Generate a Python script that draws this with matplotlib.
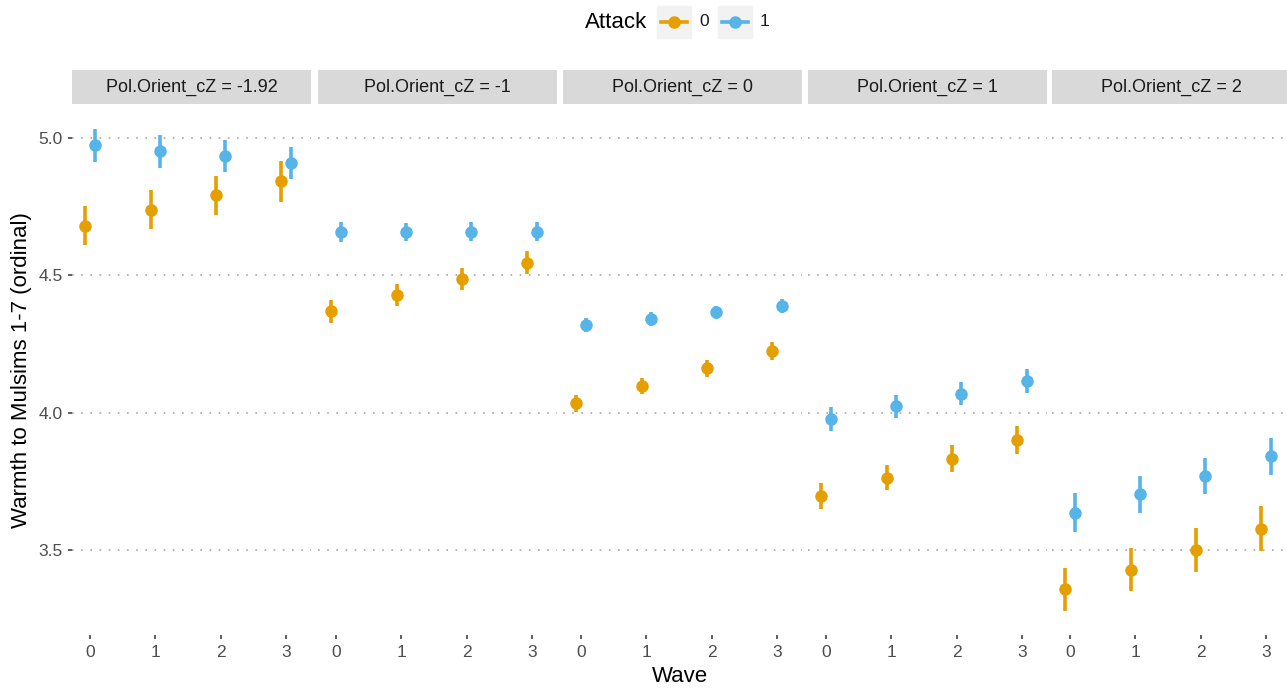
import matplotlib.pyplot as plt
from matplotlib.patches import Rectangle
from matplotlib.lines import Line2D

plt.rcParams['font.family'] = ['Liberation Sans', 'DejaVu Sans']

# data
panels = ["-1.92", "-1", "0", "1", "2"]
waves = [0, 1, 2, 3]

# Attack = 0 (orange)
est0 = [
    [4.680, 4.738, 4.790, 4.841],
    [4.369, 4.430, 4.485, 4.545],
    [4.035, 4.098, 4.161, 4.224],
    [3.698, 3.764, 3.833, 3.902],
    [3.358, 3.429, 3.502, 3.579],
]
err0 = [
    [0.070, 0.071, 0.072, 0.073],
    [0.042, 0.040, 0.040, 0.042],
    [0.031, 0.030, 0.030, 0.032],
    [0.047, 0.046, 0.048, 0.051],
    [0.078, 0.078, 0.080, 0.081],
]
# Attack = 1 (blue)
est1 = [
    [4.972, 4.950, 4.932, 4.908],
    [4.657, 4.657, 4.658, 4.658],
    [4.319, 4.341, 4.365, 4.387],
    [3.978, 4.023, 4.069, 4.116],
    [3.637, 3.703, 3.770, 3.842],
]
err1 = [
    [0.059, 0.059, 0.058, 0.058],
    [0.035, 0.034, 0.034, 0.035],
    [0.025, 0.024, 0.024, 0.025],
    [0.043, 0.042, 0.042, 0.043],
    [0.070, 0.068, 0.067, 0.067],
]

c0 = "#E69F00"
c1 = "#56B4E9"
dodge = 0.07

W, H = 1287, 688
fig = plt.figure(figsize=(W / 100, H / 100), dpi=100)

lefts = [72, 318, 563, 808, 1052]
pw = 239
ptop, pbot = 105, 635
strip_h = 34

for i, lab in enumerate(panels):
    ax = fig.add_axes([lefts[i] / W, (H - pbot) / H, pw / W, (pbot - ptop) / H])
    for e, er, col, off in [(est0[i], err0[i], c0, -dodge), (est1[i], err1[i], c1, dodge)]:
        xs = [w + off for w in waves]
        ax.errorbar(xs, e, yerr=er, fmt="o", color=col, ms=8, elinewidth=2.6,
                    capsize=0, zorder=3)
    ax.set_xlim(-0.276, 3.383)
    ax.set_ylim(3.192, 5.119)
    ax.set_yticks([3.5, 4.0, 4.5, 5.0])
    ax.set_xticks(waves)
    ax.grid(axis="y", linestyle=(0, (1, 4.5)), color="#A8A8A8", linewidth=1.2)
    for s in ax.spines.values():
        s.set_visible(False)
    ax.tick_params(axis="both", colors="#333333", labelcolor="#4D4D4D", labelsize=12.5,
                   length=3, width=1.1)
    ax.tick_params(axis="x", pad=4)
    if i == 0:
        ax.set_yticklabels(["3.5", "4.0", "4.5", "5.0"])
        ax.set_ylabel("Warmth to Mulsims 1-7 (ordinal)", fontsize=16, labelpad=5)
    else:
        ax.tick_params(axis="y", length=0, labelleft=False)

    # facet strip
    sax = fig.add_axes([lefts[i] / W, (H - ptop + 1) / H, pw / W, strip_h / H])
    sax.set_xlim(0, 1)
    sax.set_ylim(0, 1)
    sax.axis("off")
    sax.add_patch(Rectangle((0, 0), 1, 1, color="#D9D9D9"))
    sax.text(0.5, 0.5, "Pol.Orient_cZ = " + lab, ha="center", va="center",
             fontsize=13, color="#1A1A1A")

fig.text(680 / W, 1 - 676 / H, "Wave", ha="center", va="center", fontsize=16)

# legend at top
lax = fig.add_axes([0, 0, 1, 1])
lax.set_xlim(0, W)
lax.set_ylim(H, 0)
lax.axis("off")
lax.text(647, 22, "Attack", ha="right", va="center", fontsize=16)
for k, (col, lab) in enumerate([(c0, "0"), (c1, "1")]):
    x0 = 657 + k * 61
    lax.add_patch(Rectangle((x0, 6), 34, 32, color="#F2F2F2"))
    lax.add_line(Line2D([x0 + 4, x0 + 30], [22, 22], color=col, lw=2.6))
    lax.plot([x0 + 17], [22], "o", color=col, ms=8)
    lax.text(x0 + 42, 22, lab, ha="left", va="center", fontsize=12.5, color="#1A1A1A")

fig.savefig("out.png", dpi=100)
